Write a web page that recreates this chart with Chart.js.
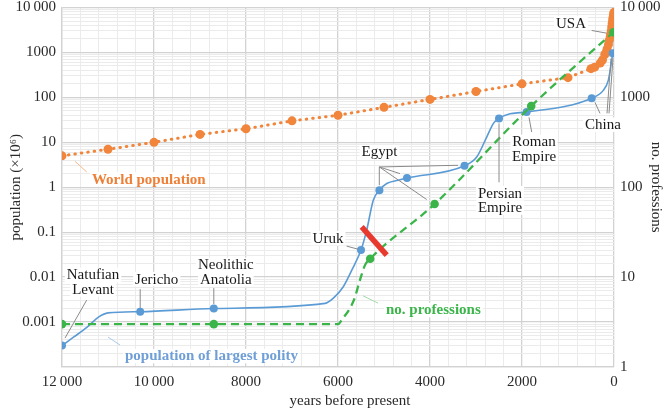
<!DOCTYPE html>
<html><head><meta charset="utf-8">
<script src="https://cdn.jsdelivr.net/npm/chart.js@4/dist/chart.umd.min.js"></script>
<style>html,body{margin:0;padding:0;background:#fff;}canvas{display:block;}</style>
</head><body>
<canvas id="c" width="667" height="411"></canvas>
<script>
// ---------------- data ----------------
const worldYears = [12000,11000,10000,9000,8000,7000,6000,5000,4000,3000,2000,1000,500,420,300,250,200,170,150,120,100,80,70,60,50,40,30,20,10,0];
const worldPop   = [5,7,10,15,20,30,40,60,90,135,200,275,435,470,580,680,900,1000,1200,1500,1900,2300,2600,3000,3700,4400,5300,6100,7000,7800];

const polityYears  = [12000,11750,11460,11200,11000,10300,8700,6280,6100,5885,5700,5500,5376,5233,5100,4940,4690,4500,3250,2985,2767,2624,2500,2260,2040,1900,485,232,124,72,28];
const polityPop    = [0.0003,0.00046,0.00076,0.0013,0.0016,0.0017,0.002,0.0026,0.0034,0.0061,0.0143,0.04,0.111,0.514,0.86,1.21,1.43,1.6,3.0,4.7,13.1,26,34,43,45.7,47,96,143,239,471,964];
const polityMarked = [1,0,0,0,0,1,1,0,0,0,0,1,0,0,1,0,0,1,1,0,0,0,1,0,0,1,1,0,0,0,1];

const profYears  = [12000,8700,6000,5920,5654,5522,5413,5300,3900,1800,15];
const profCount  = [3,3,3,3.33,5.56,9.3,13.6,16,65,800,5300];
const profMarked = [1,1,0,0,0,0,0,1,1,1,1];

const transitionYears = [5485,4941];
const transitionPop   = [0.131,0.0308];

const xLabelYears   = [12000,10000,8000,6000,4000,2000,0];
const popTickValues = [0.001,0.01,0.1,1,10,100,1000,10000];
const profTickValues= [1,10,100,1000,10000];

// ---------------- styles ----------------
const ORANGE = '#f0853b', BLUE = '#5b9bd5', GREEN = '#3bb54a', RED = '#e8392f';
const MAJOR = '#d2d2d2', MINOR = '#ebebeb', TXT = '#2a2a2a';
const FAMILY = '"Liberation Serif", "Times New Roman", serif';

function fmtNum(v){
  if (v === 0) return '0';
  if (v >= 10000) { const s = String(Math.round(v)); return s.slice(0, s.length-3) + '\u2009' + s.slice(-3); }
  if (v >= 1) return String(Math.round(v));
  const e = Math.min(20, Math.max(0, Math.round(-Math.log10(v)))); return v.toFixed(e);
}
function isDecade(v){ if (!(v > 0)) return false; const l = Math.log10(v); return Math.abs(l - Math.round(l)) < 1e-9; }

const yGrid = [];
for (let e = -4; e <= 3; e++) for (let m = 1; m <= 9; m++) yGrid.push(+(m * Math.pow(10, e)).toPrecision(3));
yGrid.push(10000);
const xGrid = [];
for (let v = 0; v <= 12000; v += 400) xGrid.push(v);

const pts = (xs, ys) => xs.map((x, i) => ({x, y: ys[i]}));

// ---------------- annotations (data units) ----------------
const notes = [
  {lines:['World population'], year:11350, val:1.5, align:'left', color:'#ee7f36', bold:true, leaderColor:'#f5b58c', leaders:[[11717,3.78,11463,2.19]]},
  {lines:['population of largest polity'], year:10630, val:0.000175, align:'left', color:'#6f9fd6', bold:true, leaderColor:'#a9c8ea', leaders:[[11000,0.000464,10739,0.000308]]},
  {lines:['no. professions'], year:4957, val:0.00185, align:'left', color:'#3bb54a', bold:true, leaderColor:'#a3dba9', leaders:[[5457,0.00384,5130,0.00264]]},
  {lines:['Natufian','Levant'], year:11326, val:0.00774, leaders:[[11463,0.00308,11935,0.00044]]},
  {lines:['Jericho'], year:9941, val:0.00903, leaders:[[10300,0.0054,10300,0.00205]]},
  {lines:['Neolithic','Anatolia'], year:8439, val:0.0129, leaders:[[8700,0.0057,8700,0.00251]]},
  {lines:['Uruk'], year:6217, val:0.0736, leaders:[[5811,0.0489,5565,0.0419]]},
  {lines:['Egypt'], year:5098, val:6.08, leaders:[[5102,2.83,5102,1.11],[5102,2.83,4652,2.01],[5102,2.83,3391,3.08],[5102,2.83,4072,0.533]]},
  {lines:['Persian','Empire'], year:2478, val:0.509, leaders:[[2500,26.4,2500,1.29]]},
  {lines:['Roman','Empire'], year:1739, val:7.06, leaders:[[1848,35.9,1789,16.9]]},
  {lines:['China'], year:239, val:24.7, leaders:[[304,44,413,77.4],[152,44,65,735],[109,44,22,735]]},
  {lines:['USA'], year:935, val:4477, leaders:[[485,3083,159,2685]]}
];
const LINE_H = 14.5;

function noteFont(n){ return (n.bold ? 'bold ' : '') + '15px ' + FAMILY; }
function noteBoxes(chart, n){
  const ctx = chart.ctx, sx = chart.scales.x, sy = chart.scales.y;
  ctx.font = noteFont(n);
  const cx = sx.getPixelForValue(n.year), cy = sy.getPixelForValue(n.val);
  const h = LINE_H * n.lines.length;
  return n.lines.map((t, i) => {
    const w = ctx.measureText(t).width;
    const x = n.align === 'left' ? cx : cx - w / 2;
    const y = cy - h / 2 + LINE_H * (i + 0.5);
    return {t, x, y, w};
  });
}

const notePlugin = {
  id: 'notes',
  beforeDatasetsDraw(chart){
    const ctx = chart.ctx; ctx.save(); ctx.fillStyle = '#fff';
    notes.forEach(n => noteBoxes(chart, n).forEach(b => ctx.fillRect(b.x - 2, b.y - LINE_H/2, b.w + 4, LINE_H)));
    ctx.restore();
  },
  afterDatasetsDraw(chart){
    const ctx = chart.ctx, sx = chart.scales.x, sy = chart.scales.y;
    ctx.save();
    notes.forEach(n => {
      ctx.strokeStyle = n.leaderColor || '#8a8a8a'; ctx.lineWidth = 1;
      n.leaders.forEach(l => {
        ctx.beginPath();
        ctx.moveTo(sx.getPixelForValue(l[0]), sy.getPixelForValue(l[1]));
        ctx.lineTo(sx.getPixelForValue(l[2]), sy.getPixelForValue(l[3]));
        ctx.stroke();
      });
      ctx.fillStyle = n.color || '#1a1a1a'; ctx.textBaseline = 'middle'; ctx.textAlign = 'left';
      noteBoxes(chart, n).forEach(b => { ctx.font = noteFont(n); ctx.fillText(b.t, b.x, b.y + 0.5); });
    });
    ctx.restore();
  },
  afterDraw(chart){
    const ctx = chart.ctx, a = chart.chartArea;
    const mid = (a.top + a.bottom) / 2;
    ctx.save();
    ctx.font = '15px ' + FAMILY; ctx.fillStyle = TXT; ctx.textAlign = 'center'; ctx.textBaseline = 'middle';
    ctx.save(); ctx.translate(16, mid); ctx.rotate(-Math.PI/2); ctx.fillText('population (\u00d710\u2076)', 0, 0); ctx.restore();
    ctx.save(); ctx.translate(656, mid); ctx.rotate(Math.PI/2); ctx.fillText('no. professions', 0, 0); ctx.restore();
    ctx.fillText('years before present', 350, 401);
    ctx.restore();
  }
};

const tickFont = {family: FAMILY, size: 15};

new Chart(document.getElementById('c'), {
  type: 'line',
  data: {
    datasets: [
      {data: pts(transitionYears, transitionPop), yAxisID:'y', borderColor: RED, borderWidth: 5.5, borderCapStyle:'butt', pointRadius: 0, tension: 0},
      {data: pts(profYears, profCount), yAxisID:'y2', borderColor: GREEN, borderWidth: 2.3, borderDash:[8,5],
        pointRadius: profMarked.map(m => m ? 4.3 : 0), pointBackgroundColor: GREEN, pointBorderWidth: 0, cubicInterpolationMode:'monotone'},
      {data: pts(polityYears, polityPop), yAxisID:'y', borderColor: BLUE, borderWidth: 1.6,
        pointRadius: polityMarked.map(m => m ? 4 : 0), pointBackgroundColor: BLUE, pointBorderWidth: 0, cubicInterpolationMode:'monotone'},
      {data: pts(worldYears, worldPop), yAxisID:'y', borderColor: ORANGE, borderWidth: 3, borderDash:[0.5,6], borderCapStyle:'round',
        pointRadius: 4.5, pointBackgroundColor: ORANGE, pointBorderWidth: 0, tension: 0}
    ]
  },
  options: {
    responsive: false, animation: false, events: [],
    layout: {padding: {top: 7.5, left: 0, right: 0, bottom: 0}},
    plugins: {legend: {display: false}, tooltip: {enabled: false}},
    scales: {
      x: {
        type: 'linear', min: 0, max: 12000, reverse: true,
        afterBuildTicks: s => { s.ticks = xGrid.map(v => ({value: v})); },
        afterFit: s => { s.height = 44; s.paddingLeft = 0; s.paddingRight = 0; },
        ticks: {autoSkip: false, maxRotation: 0, minRotation: 0, padding: 6, color: TXT, font: tickFont,
          callback: v => xLabelYears.includes(v) ? fmtNum(v) : ''},
        grid: {drawTicks: false, color: c => (c.tick && c.tick.value % 2000 === 0) ? MAJOR : MINOR,
          lineWidth: c => (c.tick && c.tick.value % 2000 === 0) ? 1.3 : 1},
        border: {display: true, color: MAJOR, width: 1.3}
      },
      y: {
        type: 'logarithmic', position: 'left', min: 0.0001, max: 10000,
        afterBuildTicks: s => { s.ticks = yGrid.map(v => ({value: v})); },
        afterFit: s => { s.width = 62; s.paddingTop = 0; s.paddingBottom = 0; },
        ticks: {autoSkip: false, padding: 6, color: TXT, font: tickFont,
          callback: v => popTickValues.some(t => Math.abs(t - v) / t < 1e-6) ? fmtNum(v) : ''},
        grid: {drawTicks: false, color: c => (c.tick && isDecade(c.tick.value)) ? MAJOR : MINOR,
          lineWidth: c => (c.tick && isDecade(c.tick.value)) ? 1.3 : 1},
        border: {display: true, color: MAJOR, width: 1.3}
      },
      y2: {
        type: 'logarithmic', position: 'right', min: 1, max: 10000,
        afterBuildTicks: s => { s.ticks = profTickValues.map(v => ({value: v})); },
        afterFit: s => { s.width = 53; s.paddingTop = 0; s.paddingBottom = 0; },
        ticks: {autoSkip: false, padding: 6, color: TXT, font: tickFont, callback: v => fmtNum(v)},
        grid: {drawOnChartArea: false, drawTicks: false},
        border: {display: false}
      }
    }
  },
  plugins: [notePlugin]
});
</script>
</body></html>
